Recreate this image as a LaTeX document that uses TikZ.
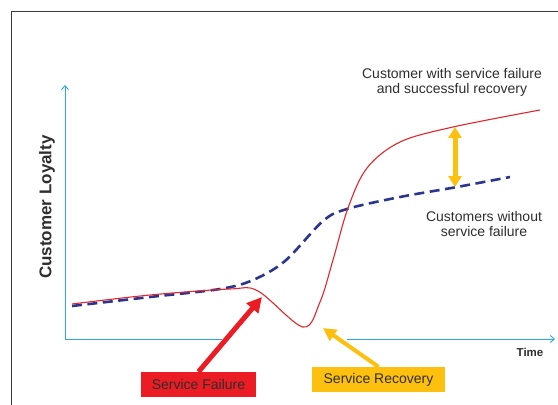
\documentclass[tikz,border=0pt]{standalone}
\usepackage{fontspec}
\setmainfont{Liberation Sans}
\usetikzlibrary{arrows.meta,positioning}
\definecolor{axisblue}{HTML}{2AA8DF}
\definecolor{curvered}{HTML}{E3262C}
\definecolor{dashblue}{HTML}{2B3590}
\definecolor{boxred}{HTML}{EC1C24}
\definecolor{boxyellow}{HTML}{FDC00F}
\definecolor{framegray}{HTML}{3A3A3A}
\definecolor{textgray}{HTML}{2E2E2E}

\begin{document}
\begin{tikzpicture}[x=1pt,y=-1pt,
        axis/.style={draw=axisblue, line width=0.9pt},
        curvelabel/.style={text=textgray, align=center, font=\fontsize{14}{15.5}\selectfont},
        tagbox/.style={minimum height=25pt, inner sep=0pt, text=textgray, font=\fontsize{14}{16}\selectfont},
        pointer/.style={line width=5pt, -{Triangle[length=15pt,width=15pt]}}]
        \useasboundingbox (0,0) rectangle (558,405);
        % Frame and axes
        \draw[framegray, line width=1pt] (11,420) -- (11,11) -- (570,11);
        \coordinate (origin) at (65,339);
        \coordinate (ytop) at (65,85);
        \coordinate (xgapl) at (222,339);
        \coordinate (xgapr) at (347,339);
        \coordinate (xend) at (555,339);
        \draw[axis, -{Straight Barb[length=4pt,width=7pt]}] (origin) -- (ytop);
        \draw[axis] (origin) -- (xgapl);
        \draw[axis, -{Straight Barb[length=4pt,width=7pt]}] (xgapr) -- (xend);

        % Place nodes
        \node[rotate=90, text=textgray, font=\bfseries\fontsize{17}{19}\selectfont] (loyalty) at (47,207) {Customer Loyalty};
        \node[text=textgray, font=\bfseries\fontsize{11.5}{13}\selectfont] (time) at (530,352) {Time};
        \node[curvelabel] (recovered) at (452,82.5) {Customer with service failure\\and successful recovery};
        \node[curvelabel] (without) at (484,224) {Customers without\\service failure};
        \node[tagbox, fill=boxred, minimum width=115pt] (fail) at (198.5,384.5) {Service Failure};
        \node[tagbox, fill=boxyellow, minimum width=133pt] (recov) at (378.5,379.5) {Service Recovery};

        % Curves
        \draw[dashblue, line width=2.6pt, dash pattern=on 10pt off 5.5pt]
        plot[smooth, tension=0.55] coordinates {(72,306) (150,297) (220,289) (253,280) (285,261)
            (323,221) (347,209) (400,197) (457,187) (510,177)};
        \draw[curvered, line width=1.1pt]
        plot[smooth, tension=0.55] coordinates {(72,304) (150,295) (230,289) (258,291) (303,327)
            (320,302) (333,260) (348,208) (367,168) (400,142) (453,127) (540,110)};

        % Draw edges
        \coordinate (failtip) at (262,297);
        \coordinate (recovtip) at (323,328);
        \coordinate (gaptop) at (455,127);
        \coordinate (gapbot) at (455,187);
        \draw[pointer, boxred] (fail.north) -- (failtip);
        \draw[pointer, boxyellow, line width=4pt, -{Triangle[length=13pt,width=13pt]}] (recov.north) -- (recovtip);
        \draw[boxyellow, line width=5pt, {Triangle[length=11pt,width=13pt]}-{Triangle[length=11pt,width=13pt]}] (gaptop) -- (gapbot);
    \end{tikzpicture}
\end{document}
